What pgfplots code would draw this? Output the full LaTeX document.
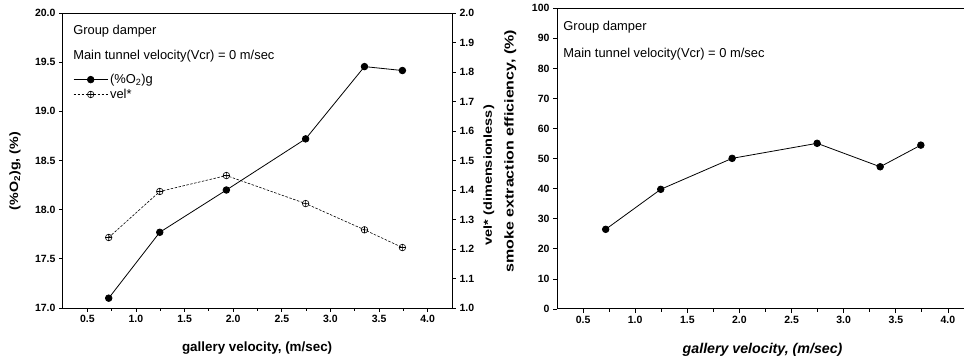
\documentclass[border=0pt]{standalone}
\usepackage{fontspec}
\setmainfont{Liberation Sans}
\usepackage{graphicx}
\usepackage{pgfplots}
\pgfplotsset{compat=1.18}
\tikzset{lbl/.style={font=\fontsize{12.9}{15}\selectfont, anchor=west, inner sep=0pt}}
\begin{document}
\begin{tikzpicture}
\path[use as bounding box] (0pt,0pt) rectangle (964pt,359pt);
\pgfplotsset{
  every axis/.append style={
    scale only axis,
    /pgf/number format/assume math mode=true,
    tick label style={font=\bfseries\fontsize{10.5}{12}\selectfont},
    tick align=outside,
    tick style={black, line width=0.8pt},
    major tick length=4pt, minor tick length=2.5pt,
    axis line style={line width=1pt, -},
    clip=false,
  },
}
% ---------------- left panel, O2 ----------------
\begin{axis}[
  at={(63pt,51pt)}, anchor=south west,
  width=389pt, height=295pt,
  xmin=0.25, xmax=4.25, ymin=17, ymax=20,
  axis y line*=left,
  xtick pos=left,
  xtick={0.5,1.0,1.5,2.0,2.5,3.0,3.5,4.0}, minor x tick num=1,
  ytick={17,17.5,18,18.5,19,19.5,20},
  xticklabel style={/pgf/number format/.cd,fixed,fixed zerofill,precision=1},
  yticklabel style={/pgf/number format/.cd,fixed,fixed zerofill,precision=1},
  xlabel={gallery velocity, (m/sec)},
  ylabel={\scalebox{1}[0.85]{(\%O\textsubscript{2})g, (\%)}},
  every axis x label/.style={at={(axis description cs:0.499,-0.136)}, anchor=center, font=\bfseries\fontsize{13.4}{15}\selectfont},
  every axis y label/.style={at={(axis description cs:-0.123,0.464)}, rotate=90, anchor=center, font=\bfseries\fontsize{14.2}{16}\selectfont},
  legend style={draw=none, fill=none, at={(axis description cs:0.026,0.80)}, anchor=north west,
    font=\fontsize{12.9}{15}\selectfont, row sep=0pt, inner sep=0pt},
  legend cell align=left,
  legend image code/.code={\draw[mark repeat=2,mark phase=2,#1] plot coordinates {(0pt,0pt) (17pt,0pt) (34pt,0pt)};},
]
\addplot[black, line width=0.8pt, mark=*, mark size=3.3pt] coordinates {
  (0.72,17.10) (1.245,17.77) (1.93,18.20) (2.745,18.72) (3.35,19.455) (3.74,19.415)
};
\addlegendentry{(\%O\textsubscript{2})g}
\addlegendimage{black, line width=0.6pt, dash pattern=on 2.5pt off 1.5pt, mark=oplus, mark size=3.3pt, mark options={solid}}
\addlegendentry{vel*}
\node[lbl] at (axis description cs:0.026,0.94) {Group damper};
\node[lbl] at (axis description cs:0.026,0.855) {Main tunnel velocity(Vcr) = 0 m/sec};
\end{axis}
% ---------------- left panel, vel* ----------------
\begin{axis}[
  at={(63pt,51pt)}, anchor=south west,
  width=389pt, height=295pt,
  xmin=0.25, xmax=4.25, ymin=1, ymax=2,
  axis y line*=right, axis x line=none,
  ytick={1,1.1,1.2,1.3,1.4,1.5,1.6,1.7,1.8,1.9,2.0},
  yticklabel style={/pgf/number format/.cd,fixed,fixed zerofill,precision=1},
  ylabel={\scalebox{1}[0.8]{vel* (dimensionless)}},
  every axis y label/.style={at={(axis description cs:1.095,0.45)}, rotate=90, anchor=center, font=\bfseries\fontsize{14.5}{16}\selectfont},
]
\addplot[black, line width=0.6pt, dash pattern=on 2.5pt off 1.5pt, mark=oplus, mark size=3.3pt, mark options={solid}] coordinates {
  (0.72,1.239) (1.245,1.395) (1.93,1.449) (2.745,1.354) (3.35,1.265) (3.74,1.205)
};
\end{axis}
% ---------------- right panel ----------------
\begin{axis}[
  at={(557pt,50pt)}, anchor=south west,
  width=417pt, height=300.7pt,
  xmin=0.25, xmax=4.25, ymin=0, ymax=100,
  xtick pos=left, ytick pos=left,
  xtick={0.5,1.0,1.5,2.0,2.5,3.0,3.5,4.0}, minor x tick num=1,
  ytick={0,10,...,100},
  xticklabel style={/pgf/number format/.cd,fixed,fixed zerofill,precision=1},
  xlabel={gallery velocity, (m/sec)},
  ylabel={\scalebox{1}[0.8]{smoke extraction efficiency, (\%)}},
  every axis x label/.style={at={(axis description cs:0.493,-0.136)}, anchor=center, font=\bfseries\itshape\fontsize{14.2}{16}\selectfont},
  every axis y label/.style={at={(axis description cs:-0.112,0.525)}, rotate=90, anchor=center, font=\bfseries\fontsize{16}{18}\selectfont},
]
\addplot[black, line width=0.8pt, mark=*, mark size=3.3pt] coordinates {
  (0.717,26.5) (1.245,39.8) (1.93,50.1) (2.745,55.1) (3.35,47.3) (3.74,54.5)
};
\node[lbl] at (axis description cs:0.015,0.937) {Group damper};
\node[lbl] at (axis description cs:0.015,0.848) {Main tunnel velocity(Vcr) = 0 m/sec};
\end{axis}
\end{tikzpicture}
\end{document}
